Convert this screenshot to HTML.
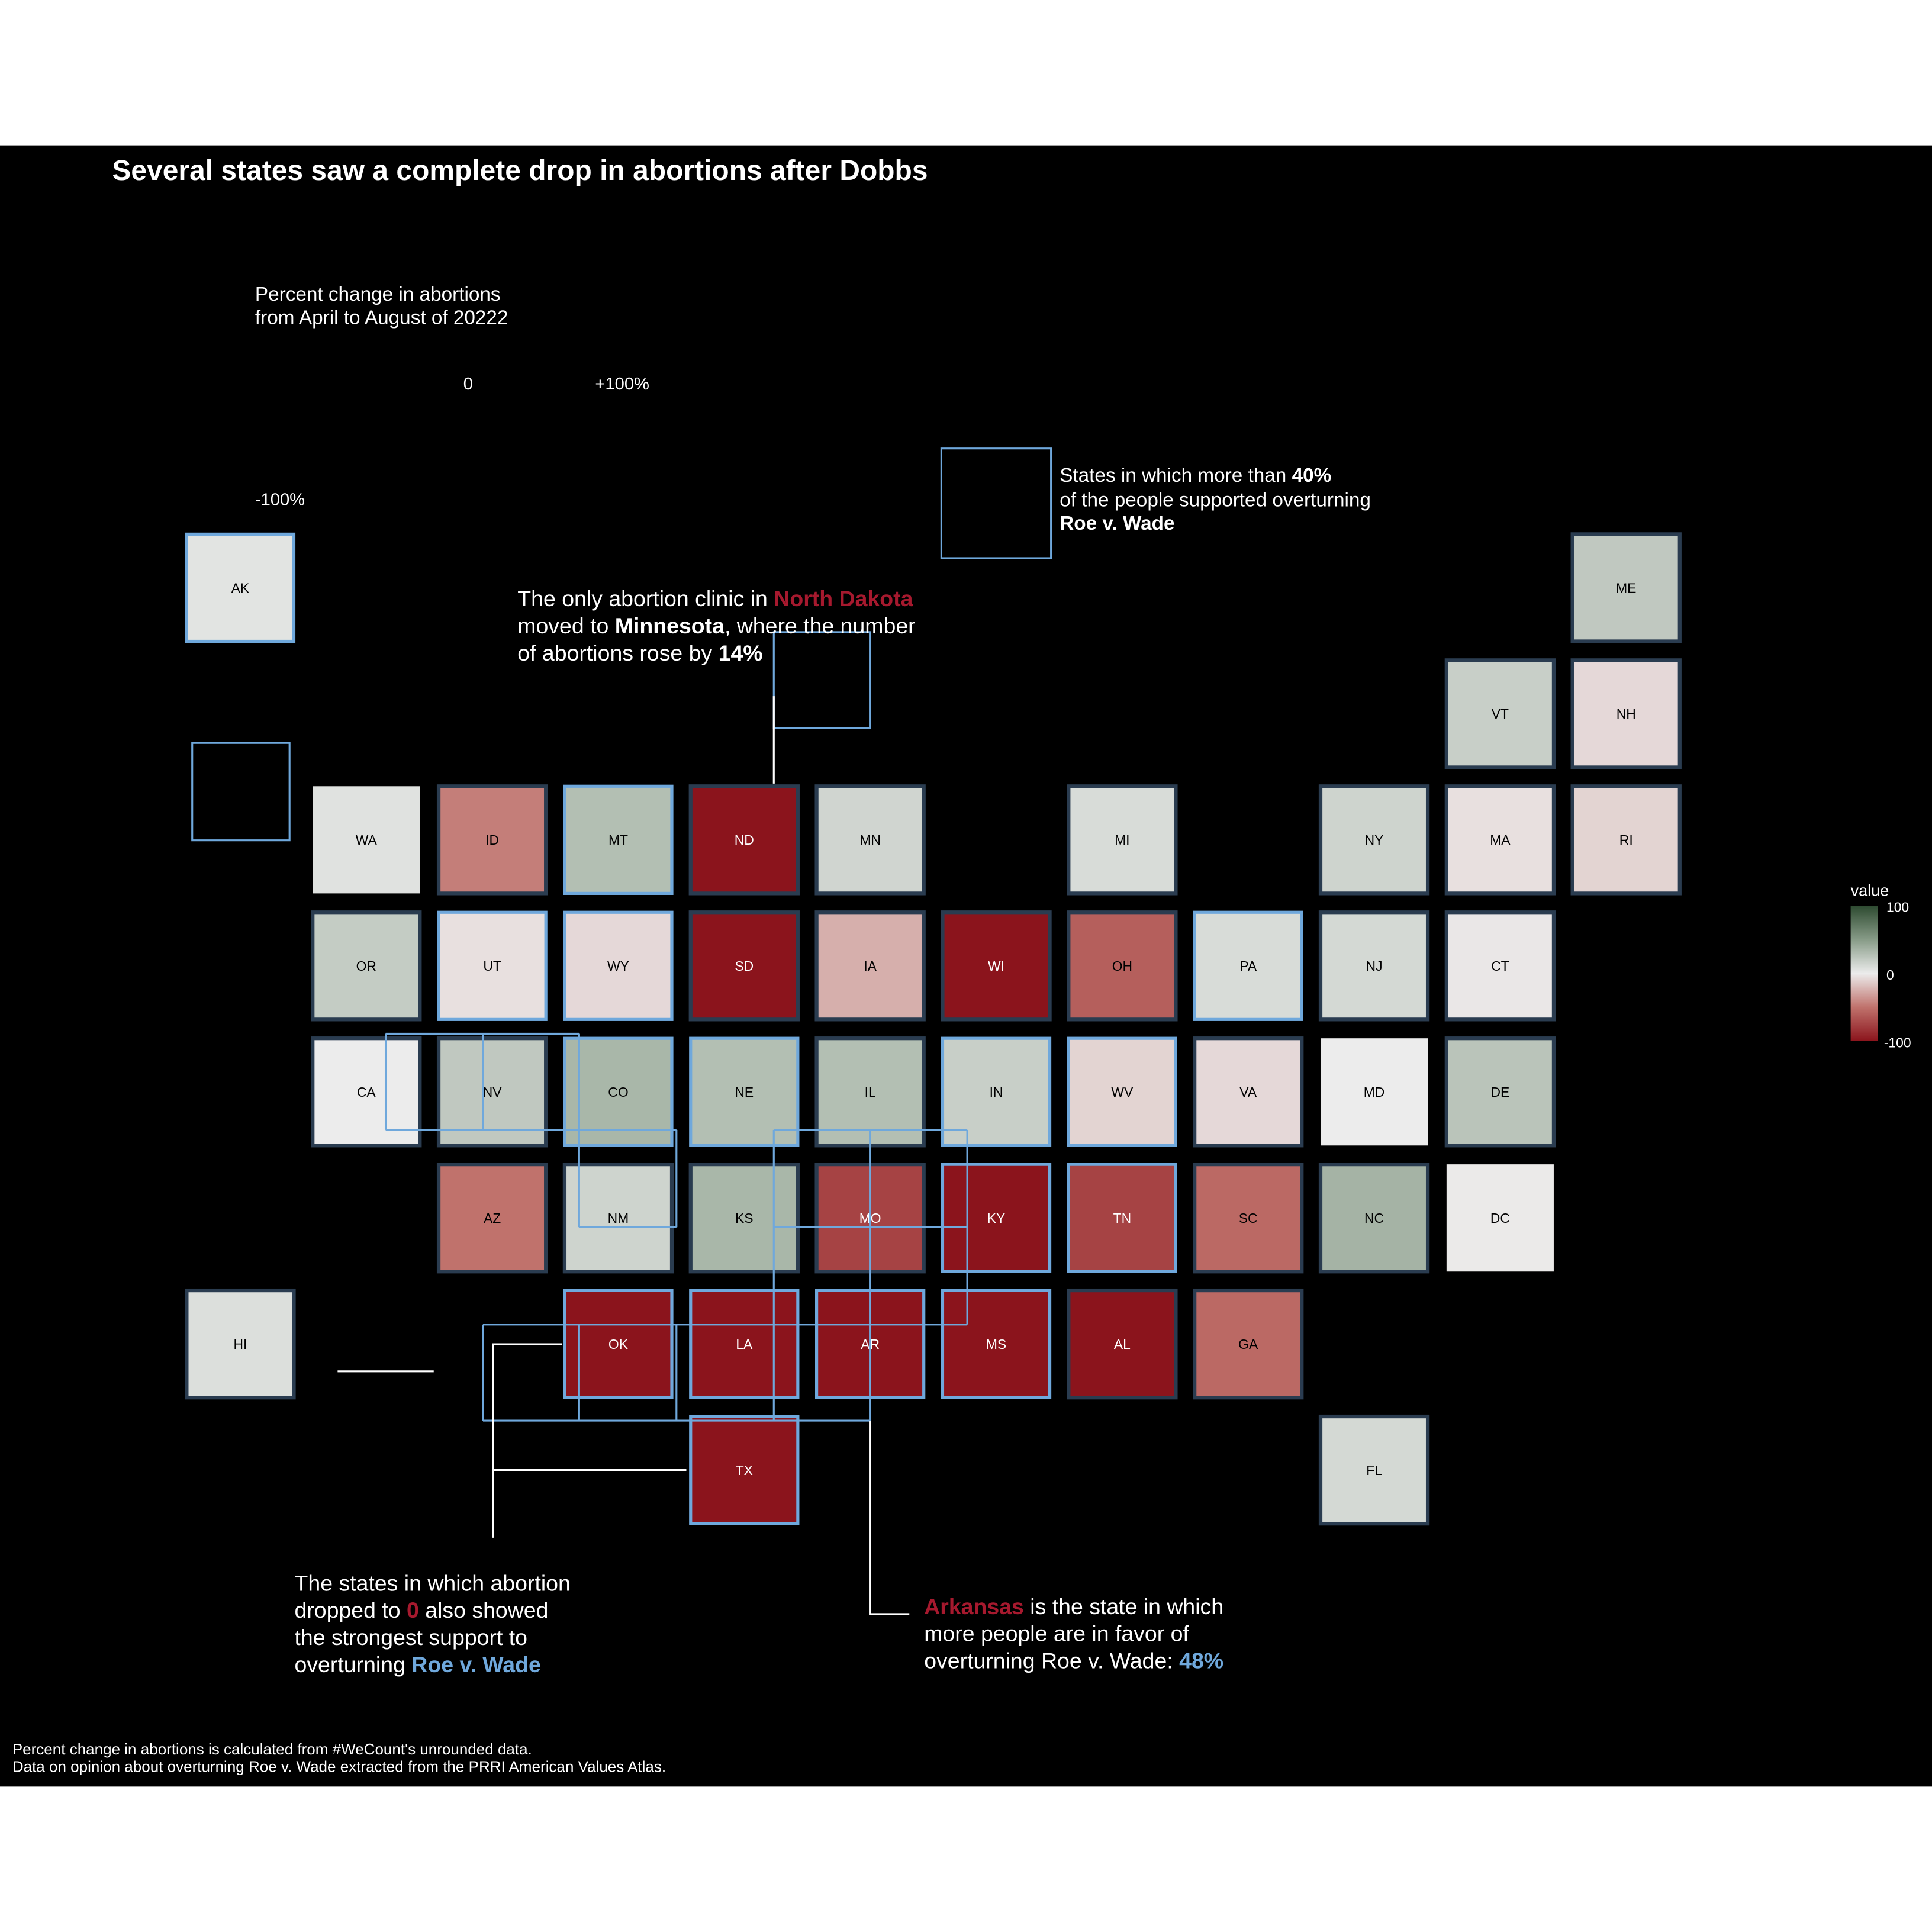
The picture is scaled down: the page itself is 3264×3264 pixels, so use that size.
<!DOCTYPE html>
<html><head><meta charset="utf-8">
<style>html,body{margin:0;padding:0;background:#fff}svg{display:block}text{font-family:"Liberation Sans",sans-serif}</style>
</head><body>
<svg id="chart" width="3264" height="3264" viewBox="0 0 1568 1568" xmlns="http://www.w3.org/2000/svg">
<rect x="0" y="0" width="1568" height="1568" fill="#fff"/>
<rect x="0" y="118" width="1568" height="1332" fill="#000"/>
<text x="91" y="146" fill="#fff" font-size="23" font-weight="bold" textLength="662">Several states saw a complete drop in abortions after Dobbs</text>
<text fill="#fff" font-size="16"><tspan x="207" y="244">Percent change in abortions</tspan><tspan x="207" y="263">from April to August of 20222</tspan></text>
<text x="376" y="316" fill="#fff" font-size="14">0</text>
<text x="483" y="316" fill="#fff" font-size="14">+100%</text>
<text x="207" y="410" fill="#fff" font-size="14">-100%</text>
<rect x="764" y="364" width="89" height="89" fill="none" stroke="#6fa8dc" stroke-width="1.5"/>
<text fill="#fff" font-size="16"><tspan x="860" y="391">States in which more than <tspan font-weight="bold">40%</tspan></tspan><tspan x="860" y="411">of the people supported overturning</tspan><tspan x="860" y="430" font-weight="bold">Roe v. Wade</tspan></text>
<rect x="156" y="603" width="79" height="79" fill="none" stroke="#6fa8dc" stroke-width="1.5"/>
<g id="tiles"></g>
<g id="lines"></g>
<rect x="628" y="513" width="78" height="78" fill="none" stroke="#6fa8dc" stroke-width="1.5"/>
<g stroke="#fff" stroke-width="1.5" fill="none">
<path d="M628 565 V636"/>
<path d="M456 1091 H400 V1248 M400 1193 H557"/>
<path d="M274 1113 H352"/>
<path d="M706 1153 V1310 H738"/>
</g>
<text fill="#fff" font-size="18"><tspan x="420" y="492">The only abortion clinic in <tspan fill="#a6192e" font-weight="bold">North Dakota</tspan></tspan><tspan x="420" y="514">moved to <tspan font-weight="bold">Minnesota</tspan>, where the number</tspan><tspan x="420" y="536">of abortions rose by <tspan font-weight="bold">14%</tspan></tspan></text>
<text fill="#fff" font-size="18"><tspan x="239" y="1291">The states in which abortion</tspan><tspan x="239" y="1313">dropped to <tspan fill="#a6192e" font-weight="bold">0</tspan> also showed</tspan><tspan x="239" y="1335">the strongest support to</tspan><tspan x="239" y="1357">overturning <tspan fill="#6fa8dc" font-weight="bold">Roe v. Wade</tspan></tspan></text>
<text fill="#fff" font-size="18"><tspan x="750" y="1310"><tspan fill="#a6192e" font-weight="bold">Arkansas</tspan> is the state in which</tspan><tspan x="750" y="1332">more people are in favor of</tspan><tspan x="750" y="1354">overturning Roe v. Wade:  <tspan fill="#6fa8dc" font-weight="bold">48%</tspan></tspan></text>
<text fill="#fff" font-size="12.5"><tspan x="10" y="1424">Percent change in abortions is calculated from #WeCount's unrounded data.</tspan><tspan x="10" y="1438">Data on opinion about overturning Roe v. Wade extracted from the PRRI American Values Atlas.</tspan></text>
<defs><linearGradient id="cbar" x1="0" y1="0" x2="0" y2="1"><stop offset="0" stop-color="#2d4a30"/><stop offset="0.25" stop-color="#879b87"/><stop offset="0.5" stop-color="#ececec"/><stop offset="0.75" stop-color="#c0726c"/><stop offset="1" stop-color="#8b141c"/></linearGradient></defs>
<text x="1502" y="727" fill="#fff" font-size="13">value</text>
<rect x="1502" y="735" width="22" height="110" fill="url(#cbar)"/>
<text x="1531" y="740" fill="#fff" font-size="11">100</text>
<text x="1531" y="795" fill="#fff" font-size="11">0</text>
<text x="1529" y="850" fill="#fff" font-size="11">-100</text>
</svg>
<script>
const states = ["AK","ME","VT","NH","WA","ID","MT","ND","MN","MI","NY","MA","RI","OR","UT","WY","SD","IA","WI","OH","PA","NJ","CT","CA","NV","CO","NE","IL","IN","WV","VA","MD","DE","AZ","NM","KS","MO","KY","TN","SC","NC","DC","HI","OK","LA","AR","MS","AL","GA","TX","FL"];
const cols = [0,11,10,11,1,2,3,4,5,7,9,10,11,1,2,3,4,5,6,7,8,9,10,1,2,3,4,5,6,7,8,9,10,2,3,4,5,6,7,8,9,10,0,3,4,5,6,7,8,4,9];
const rows = [0,0,1,1,2,2,2,2,2,2,2,2,2,3,3,3,3,3,3,3,3,3,3,4,4,4,4,4,4,4,4,4,4,5,5,5,5,5,5,5,5,5,6,6,6,6,6,6,6,7,7];
const values = [5,22,18,-8,6,-45,28,-100,14,10,15,-5,-10,20,-5,-8,-100,-25,-100,-60,10,12,-2,0,22,33,28,28,18,-10,-8,0,25,-50,15,33,-75,-100,-75,-55,35,-1,8,-100,-100,-100,-100,-100,-55,-100,12];
const support = [2,1,1,1,0,1,2,1,1,1,1,1,1,1,2,2,1,1,1,1,2,1,1,1,1,2,2,1,2,2,1,0,1,1,1,1,1,2,2,1,1,0,1,2,2,2,2,1,1,2,1];
const xOf = c => 195 + c * 102.25;
const yOf = r => 477 + r * 102.3;
function mix(a,b,t){return a.map((v,i)=>Math.round(v+(b[i]-v)*t));}
function color(v){
  const red=[139,20,28], red50=[192,114,108], mid=[236,236,236], g50=[135,155,135], green=[45,74,48];
  const a=Math.min(100,Math.abs(v));
  let c;
  if(v<0) c = a<=50 ? mix(mid,red50,a/50) : mix(red50,red,(a-50)/50);
  else c = a<=50 ? mix(mid,g50,a/50) : mix(g50,green,(a-50)/50);
  return `rgb(${c[0]},${c[1]},${c[2]})`;
}
const NS="http://www.w3.org/2000/svg";
const g=document.getElementById('tiles');
const S=87;
states.forEach((s,i)=>{
  const cx=xOf(cols[i]), cy=yOf(rows[i]);
  const r=document.createElementNS(NS,'rect');
  r.setAttribute('x',cx-S/2);r.setAttribute('y',cy-S/2);r.setAttribute('width',S);r.setAttribute('height',S);
  r.setAttribute('fill',color(values[i]));
  if(support[i]===1){r.setAttribute('stroke','#2a3c50');r.setAttribute('stroke-width','3');}
  else if(support[i]===2){r.setAttribute('stroke','#6fa8dc');r.setAttribute('stroke-width','2.5');}
  
  
  g.appendChild(r);
  const t=document.createElementNS(NS,'text');
  t.setAttribute('x',cx);t.setAttribute('y',cy+4);t.setAttribute('text-anchor','middle');t.setAttribute('font-size','11');
  t.setAttribute('fill',values[i]<-65?'#fff':'#000');
  t.textContent=s;
  
  
  g.appendChild(t);
});
const segs=[[313,839,470,839],[313,917,549,917],[628,917,785,917],[470,996,549,996],[628,996,785,996],[392,1075,785,1075],[392,1153,706,1153],
[313,839,313,917],[392,839,392,917],[392,1075,392,1153],[470,839,470,996],[470,1075,470,1153],[549,917,549,996],[549,1075,549,1153],[628,917,628,1153],[706,917,706,1153],[785,917,785,1075]];
const lg=document.getElementById('lines');
segs.forEach(p=>{
  const l=document.createElementNS(NS,'line');
  l.setAttribute('x1',p[0]);l.setAttribute('y1',p[1]);l.setAttribute('x2',p[2]);l.setAttribute('y2',p[3]);
  l.setAttribute('stroke','#6fa8dc');l.setAttribute('stroke-width','1.5');
  
  
  lg.appendChild(l);
});
</script>
</body></html>
